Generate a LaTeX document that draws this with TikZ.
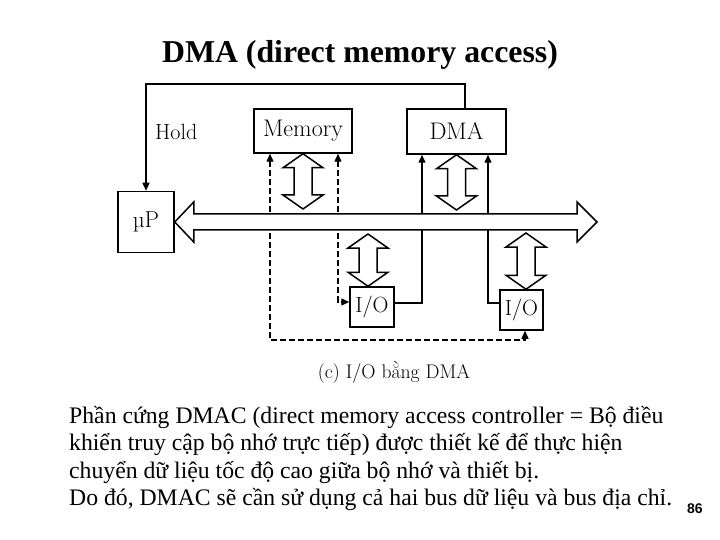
\documentclass[tikz,border=0pt]{standalone}
\usepackage{fontspec}
\newfontfamily\bodyfont{Liberation Serif}
\newfontfamily\pagefont{Liberation Sans}
\usetikzlibrary{calc,arrows.meta}

% hollow double-headed block arrow from top tip #1 to bottom tip #2
\newcommand{\blockarrow}[2]{%
  \draw[blockstyle] (#1) -- ($(#1)+(20,14)$) -- ($(#1)+(9,14)$) -- ($(#2)+(9,-14)$)
    -- ($(#2)+(20,-14)$) -- (#2) -- ($(#2)+(-20,-14)$) -- ($(#2)+(-9,-14)$)
    -- ($(#1)+(-9,14)$) -- ($(#1)+(-20,14)$) -- cycle;}

\begin{document}
\begin{tikzpicture}[x=1pt,y=-1pt,>={Triangle[length=8pt,width=7pt]},
    figtext/.style={font=\fontsize{#1}{#1}\selectfont\addfontfeature{FakeBold=0.6}},
    unit/.style={draw,line width=1.5pt,inner sep=0pt,figtext=24},
    sig/.style={line width=1.3pt},
    dsig/.style={line width=1.3pt,dash pattern=on 6pt off 3pt},
    blockstyle/.style={draw,fill=white,line width=1.5pt,line join=miter},
    bodyline/.style={anchor=base west,inner sep=0pt,font=\bodyfont\fontsize{23.7}{27.5}\selectfont}]
      \useasboundingbox (0,0) rectangle (720,540);
      % title
      \node (title) at (360,63) [anchor=base,inner sep=0pt,font=\bodyfont\bfseries\fontsize{31.8}{36}\selectfont] {DMA (direct memory access)};
      % units on the bus
      \node (mp) at (146,222) [unit,minimum width=56pt,minimum height=61pt,figtext=23] {µP};
      \node (memory) at (303,131) [unit,minimum width=98pt,minimum height=44pt] {Memory};
      \node (dma) at (456.5,131.5) [unit,minimum width=99pt,minimum height=45pt] {DMA};
      \node (iol) at (372,307) [unit,minimum width=44pt,minimum height=40pt,figtext=22] {I/O};
      \node (ior) at (521.5,310) [unit,minimum width=43pt,minimum height=40pt,figtext=22] {I/O};
      \node (hold) at (155,140) [anchor=base west,inner sep=0pt,figtext=22] {Hold};
      \coordinate (holdtop) at (146,84);
      \coordinate (busend) at (597,222);
      \coordinate (dashlow) at (270,340);
      % hold request line
      \draw [sig,->] ([xshift=8.5pt]dma.north) |- (holdtop) -- (mp.north);
      % dashed lines from memory to the I/O units
      \draw [dsig,<->] ([xshift=-33pt]memory.south) -- (dashlow) -| ([xshift=3.5pt]ior.south);
      \draw [dsig,<->] ([xshift=35pt]memory.south) |- ([yshift=5pt]iol.west);
      % lines from the I/O units to the DMA
      \draw [sig,->] ([yshift=4pt]iol.east) -| ([xshift=-34.5pt]dma.south);
      \draw [sig,->] ([yshift=7pt]ior.west) -| ([xshift=31.5pt]dma.south);
      % the system bus
      \draw [blockstyle] (mp.east) -- ++(19,-20) -- ++(0,12) -- ($(busend)+(-20,-8)$) -- ++(0,-12)
        -- (busend) -- ++(-20,20) -- ++(0,-12) -- ($(mp.east)+(19,8)$) -- ++(0,12) -- cycle;
      % block arrows between units and bus
      \coordinate (memtip) at ($(memory.south |- busend)+(0,-13)$);
      \coordinate (dmatip) at ($(dma.south |- busend)+(0,-12)$);
      \coordinate (iolbus) at ($(iol.north |- busend)+(-4,12)$);
      \coordinate (ioltop) at ($(iol.north)+(-4,0)$);
      \coordinate (iorbus) at ($(ior.north |- busend)+(4.5,11)$);
      \coordinate (iortop) at ($(ior.north)+(4.5,0)$);
      \blockarrow{memory.south}{memtip}
      \blockarrow{dma.south}{dmatip}
      \blockarrow{iolbus}{ioltop}
      \blockarrow{iorbus}{iortop}
      % caption
      \node (caption) at (394,378) [anchor=base,inner sep=0pt,figtext=19.7] {(c) I/O bằng DMA};
      % text below the figure
      \node (body1) at (69,423) [bodyline] {Phần cứng DMAC (direct memory access controller = Bộ điều};
      \node (body2) at (69,450.5) [bodyline] {khiển truy cập bộ nhớ trực tiếp) được thiết kế để thực hiện};
      \node (body3) at (69,478) [bodyline] {chuyển dữ liệu tốc độ cao giữa bộ nhớ và thiết bị.};
      \node (body4) at (69,505.5) [bodyline] {Do đó, DMAC sẽ cần sử dụng cả hai bus dữ liệu và bus địa chỉ.};
      \node (pagenum) at (687,513) [anchor=base west,inner sep=0pt,font=\pagefont\bfseries\fontsize{14}{16}\selectfont] {86};
    \end{tikzpicture}
\end{document}
